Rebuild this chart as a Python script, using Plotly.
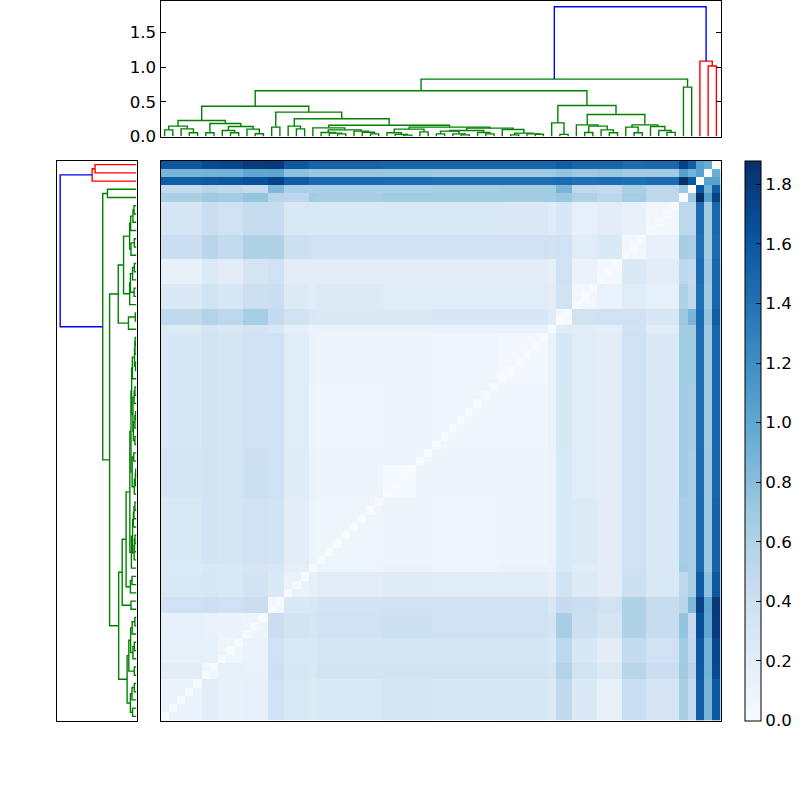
import numpy as np
import plotly.graph_objects as go

L = None
# ---- dendrogram: [height, left, right], leaves are L, in drawing order
t0_4 = [.149, [.096, L, L], [.11, L, [.053, L, L]]]
t5_12 = [.188, [.053, L, L], [.144, [.087, L, [.053, L, L]], [.106, L, [.04, L, L]]]]
t0_12 = [.23, t0_4, t5_12]
t13_14 = [.135, L, L]
t15_17 = [.149, L, [.11, L, L]]
t19_22 = [.058, L, [.048, L, [.038, L, L]]]
t23_26 = [.077, L, [.062, L, [.038, L, L]]]
t18_26 = [.125, L, [.096, t19_22, t23_26]]
t27_32 = [.106, [.053, L, [.03, L, [.02, L, L]]], [.067, L, L]]
t33_40 = [.087, [.077, [.038, L, L], [.038, L, [.024, L, L]]], [.058, L, [.038, L, L]]]
t41_46 = [.101, L, [.048, [.024, L, L], [.038, L, [.033, L, L]]]]
t33_46 = [.12, t33_40, t41_46]
t27_46 = [.135, t27_32, t33_46]
t18_46 = [.163, t18_26, t27_46]
t15_46 = [.255, t15_17, t18_46]
t13_46 = [.351, t13_14, t15_46]
t0_46 = [.437, t0_12, t13_46]
t47_49 = [.197, L, [.03, L, L]]
t50_55 = [.168, L, [.149, [.058, L, L], [.096, L, [.053, L, L]]]]
t56_62 = [.168, [.135, L, [.053, L, L]], [.144, L, [.087, L, [.06, L, L]]]]
t50_62 = [.317, t50_55, t56_62]
t47_62 = [.447, t47_49, t50_62]
t0_62 = [.659, t0_46, t47_62]
t63_64 = [.712, L, L]
green_tree = [.827, t0_62, t63_64]
red_tree = [1.087, L, [1.015, L, L]]
root_height = 1.87

# ---- distance table, by leaf group (lower triangle)
group_sizes = [5, 2, 3, 3, 2, 3, 1, 8, 4, 2, 8, 6, 1, 2, 3, 3, 3, 4, 1, 1, 1, 1, 1]
row_A = [.12]
row_B = [.2, .07]
row_C = [.15, .15, .08]
row_D = [.16, .13, .12, .1]
row_E = [.38, .4, .38, .42, .06]
row_F = [.28, .3, .28, .35, .27, .12]
row_G = [.25, .28, .28, .32, .3, .17, 0]
row_H = [.28, .35, .32, .36, .35, .2, .1, .08]
row_I1 = [.32, .36, .34, .4, .38, .23, .12, .1, .03]
row_I2 = [.32, .36, .34, .4, .38, .23, .12, .09, .1, .07]
row_J = [.29, .36, .33, .38, .38, .22, .1, .08, .1, .09, .07]
row_K = [.3, .36, .33, .38, .38, .22, .12, .09, .09, .09, .07, .05]
row_L1 = [.25, .32, .28, .34, .3, .18, .12, .12, .12, .12, .12, .12, 0]
row_L2 = [.5, .58, .52, .65, .47, .36, .28, .27, .27, .27, .3, .3, .22, .03]
row_M1 = [.26, .35, .3, .4, .42, .24, .22, .25, .22, .22, .22, .22, .2, .36, .06]
row_M2 = [.15, .25, .2, .32, .38, .2, .2, .2, .2, .2, .2, .2, .18, .38, .12, .05]
row_N1 = [.42, .55, .48, .6, .6, .4, .38, .38, .38, .38, .38, .38, .36, .38, .22, .27, .06]
row_N2 = [.32, .42, .38, .45, .46, .28, .28, .28, .28, .28, .28, .26, .22, .3, .16, .2, .14, .06]
row_O = [.64, .7, .68, .75, .55, .52, .68, .65, .68, .68, .68, .68, .68, .72, .6, .52, .66, .52, 0]
row_P = [.48, .55, .5, .47, .85, .62, .62, .62, .62, .62, .65, .68, .68, .88, .5, .48, .62, .52, .72, 0]
row_Q = [1.55, 1.58, 1.6, 1.65, 1.75, 1.57, 1.47, 1.47, 1.45, 1.45, 1.43, 1.43, 1.43, 1.45, 1.42, 1.45, 1.42, 1.45, 1.88, 1.6, 0]
row_R = [.88, .9, .9, 1.0, 1.02, .78, .72, .72, .72, .72, .7, .7, .7, .75, .7, .72, .68, .68, 1.05, .9, 1.05, 0]
row_S = [1.6, 1.7, 1.72, 1.8, 1.82, 1.6, 1.52, 1.52, 1.5, 1.5, 1.5, 1.5, 1.5, 1.55, 1.5, 1.5, 1.45, 1.48, 1.75, 1.55, 1.05, .95, 0]
rows = [row_A, row_B, row_C, row_D, row_E, row_F, row_G, row_H, row_I1, row_I2, row_J, row_K, row_L1,
        row_L2, row_M1, row_M2, row_N1, row_N2, row_O, row_P, row_Q, row_R, row_S]

colorbar_ticks = [0, .2, .4, .6, .8, 1, 1.2, 1.4, 1.6, 1.8]
dendro_ticks = [0, .5, 1, 1.5]
blues = ['#f7fbff', '#deebf7', '#c6dbef', '#9ecae1', '#6baed6', '#4292c6', '#2171b5', '#08519c', '#08306b']

n_groups = len(rows)
B = np.zeros((n_groups, n_groups))
for i, r in enumerate(rows):
    for j, v in enumerate(r):
        B[i, j] = B[j, i] = v
idx = np.repeat(np.arange(n_groups), group_sizes)
Z = B[np.ix_(idx, idx)]
np.fill_diagonal(Z, 0)
n = len(idx)


def walk(node, state, segs):
    """Scipy-style layout: leaf i sits at 5+10i, a merge at the mean of its children."""
    if node is None:
        x = 5 + 10 * state[0]
        state[0] += 1
        return x, 0.0
    h, a, b = node
    xa, ha = walk(a, state, segs)
    xb, hb = walk(b, state, segs)
    segs.append((xa, ha, xb, hb, h))
    return (xa + xb) / 2, h


state = [0]
green, red, blue = [], [], []
gx, gh = walk(green_tree, state, green)
rx, rh = walk(red_tree, state, red)
blue.append((gx, gh, rx, rh, root_height))


def u_paths(segs):
    pos, hts = [], []
    for xa, ha, xb, hb, h in segs:
        pos += [xa, xa, xb, xb, None]
        hts += [ha, h, h, hb, None]
    return pos, hts


fig = go.Figure()
for segs, col in [(green, '#008000'), (red, '#ff0000'), (blue, '#0000ff')]:
    p, h = u_paths(segs)
    fig.add_trace(go.Scatter(x=p, y=h, mode='lines', line=dict(color=col, width=1.4),
                             xaxis='x', yaxis='y', showlegend=False, hoverinfo='skip'))
    fig.add_trace(go.Scatter(x=h, y=p, mode='lines', line=dict(color=col, width=1.4),
                             xaxis='x2', yaxis='y2', showlegend=False, hoverinfo='skip'))

fig.add_trace(go.Heatmap(
    z=Z, x=np.arange(n) + .5, y=np.arange(n) + .5, xaxis='x3', yaxis='y3',
    colorscale=[[i / 8, c] for i, c in enumerate(blues)], zmin=0, zmax=1.88,
    hoverinfo='skip',
    colorbar=dict(thickness=16, thicknessmode='pixels', len=560 / 800, lenmode='fraction',
                  x=744.5 / 800, xanchor='left', y=79.5 / 800, yanchor='bottom', xpad=0, ypad=0,
                  outlinewidth=1, outlinecolor='black', ticks='inside', ticklen=5,
                  tickcolor='black', tickvals=colorbar_ticks,
                  ticktext=['%.1f' % v for v in colorbar_ticks],
                  tickfont=dict(family='DejaVu Sans', size=16.67, color='black'))))

frame = dict(showline=True, linecolor='black', linewidth=1, mirror=True, zeroline=False, showgrid=False)
blank = dict(showticklabels=False, ticks='', **frame)
x_main = [160.5 / 800, 720.5 / 800]
y_main = [79.5 / 800, 639.5 / 800]
fig.update_layout(
    width=800, height=800, autosize=False,
    margin=dict(l=0, r=0, t=0, b=0, autoexpand=False),
    paper_bgcolor='white', plot_bgcolor='white', showlegend=False,
    font=dict(family='DejaVu Sans', size=16.67, color='black'),
    xaxis=dict(domain=x_main, range=[0, 10 * n], **blank),
    yaxis=dict(domain=[663.5 / 800, 799.5 / 800], range=[0, 1.96], tickvals=dendro_ticks,
               ticktext=['%.1f' % v for v in dendro_ticks], ticks='inside', ticklen=5,
               tickcolor='black', tickfont=dict(family='DejaVu Sans', size=16.67),
               showline=True, linecolor='black', linewidth=1, mirror='ticks',
               zeroline=False, showgrid=False),
    xaxis2=dict(domain=[56.5 / 800, 136.5 / 800], range=[1.96, 0], anchor='y2', **blank),
    yaxis2=dict(domain=y_main, range=[0, 10 * n], anchor='x2', **blank),
    xaxis3=dict(domain=x_main, range=[0, n], anchor='y3', **blank),
    yaxis3=dict(domain=y_main, range=[0, n], anchor='x3', **blank),
)
fig.write_html("out.html", config={'displayModeBar': False},
               post_script="document.body.style.margin='0';")
